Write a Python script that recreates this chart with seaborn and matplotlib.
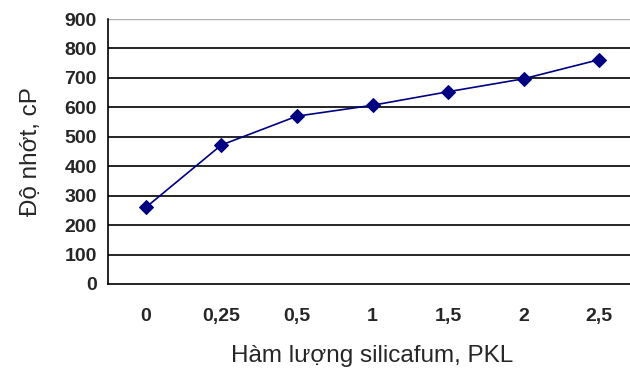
import matplotlib
matplotlib.use("Agg")
import matplotlib.pyplot as plt
import seaborn as sns
import numpy as np

categories = ["0", "0,25", "0,5", "1", "1,5", "2", "2,5"]
viscosity = [260, 472, 570, 607, 653, 697, 762]
y_ticks = [0, 100, 200, 300, 400, 500, 600, 700, 800, 900]

sns.set_style("white")
plt.rcParams['font.family'] = ['Liberation Sans', 'DejaVu Sans']

fig = plt.figure(figsize=(6.3, 3.7), dpi=100)
ax = fig.add_axes([108/630, 1-284/370, 529/630, 265/370])

x = np.arange(len(categories))
sns.lineplot(x=x, y=viscosity, ax=ax, color="#000080", marker="D", markersize=7.5,
             markeredgecolor="#000080", linewidth=1.2, zorder=5)

ax.set_xlim(-0.5, len(categories)-0.5)
ax.set_ylim(0, 900)
ax.set_yticks(y_ticks)
ax.set_yticklabels([str(v) for v in y_ticks], fontweight="bold", fontsize=14)
ax.set_xticks(x)
ax.set_xticklabels(categories, fontweight="bold", fontsize=14)
ax.set_xticks(np.arange(-0.5, len(categories)), minor=True)
ax.tick_params(axis='x', which='major', length=0, pad=17)
ax.tick_params(axis='x', which='minor', length=5, width=1.2, color="black", direction="out")
ax.tick_params(axis='y', which='major', length=5, width=1.2, color="black", direction="out", pad=3)

for v in y_ticks[1:-1]:
    ax.axhline(v, color="black", linewidth=1.2, zorder=1)
ax.axhline(900, color="#b0b0b0", linewidth=1.0, zorder=1)

for s in ["top", "right"]:
    ax.spines[s].set_visible(False)
for s in ["left", "bottom"]:
    ax.spines[s].set_color("black")
    ax.spines[s].set_linewidth(1.2)

ax.set_xlabel("Hàm lượng silicafum, PKL", fontsize=17.5, labelpad=15)
ax.set_ylabel("Độ nhớt, cP", fontsize=17.5, labelpad=16)

fig.savefig("out.png", dpi=100)
